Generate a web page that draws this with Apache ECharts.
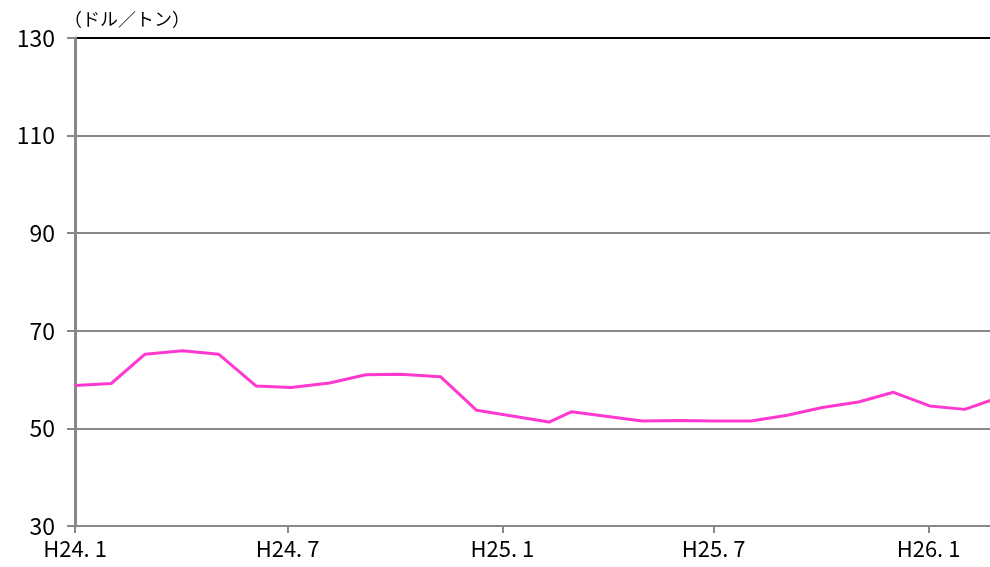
<!DOCTYPE html>
<html>
<head>
<meta charset="utf-8">
<script src="https://cdn.jsdelivr.net/npm/echarts@6/dist/echarts.min.js"></script>
<style>
html,body{margin:0;padding:0;background:#fff;}
#chart{width:990px;height:567px;}
</style>
</head>
<body>
<div id="chart"></div>
<script>
// Data
var dates = ['2012-01-01','2012-02-01','2012-03-01','2012-04-02','2012-05-03','2012-06-04','2012-07-04','2012-08-06','2012-09-06','2012-10-06','2012-11-09','2012-12-10','2013-02-10','2013-03-01','2013-05-01','2013-06-01','2013-07-01','2013-08-02','2013-09-02','2013-10-02','2013-11-02','2013-12-02','2014-01-02','2014-02-01','2014-03-01'];
var prices = [58.8,59.2,65.2,65.9,65.2,58.7,58.4,59.3,61.0,61.1,60.6,53.7,51.3,53.4,51.5,51.6,51.5,51.5,52.7,54.3,55.4,57.4,54.6,53.9,56.2];
var tickDates = ['2012-01-01','2012-07-01','2013-01-01','2013-07-01','2014-01-01'];
var tickLabels = ['H24. 1','H24. 7','H25. 1','H25. 7','H26. 1'];
var yTicks = [30,50,70,90,110,130];
var unitLabel = '（ドル／トン）';
var axisStart = '2012-01-01';
var axisEnd = '2014-02-22';

function ts(s){ var p = s.split('-'); return Date.UTC(+p[0], +p[1]-1, +p[2]); }
var tickTs = tickDates.map(ts);
var seriesData = dates.map(function(d,i){ return [ts(d), prices[i]]; });

var FONT = '"Noto Sans CJK JP", "Noto Sans", sans-serif';
var chart = echarts.init(document.getElementById('chart'), null, {renderer:'canvas'});
chart.setOption({
  animation: false,
  backgroundColor: '#ffffff',
  title: {
    text: unitLabel,
    left: 59, top: 5,
    textStyle: {fontFamily: FONT, fontSize: 18, fontWeight: 'normal', color: '#000'}
  },
  grid: {left: 75, right: 0, top: 38, bottom: 41, containLabel: false},
  xAxis: {
    type: 'value',
    min: ts(axisStart),
    max: ts(axisEnd) + 16 * 3600000,
    axisLine: {show: true, onZero: false, lineStyle: {color: '#888888', width: 2}},
    axisTick: {show: true, length: 7, customValues: tickTs, lineStyle: {color: '#888888', width: 2}},
    axisLabel: {
      show: true,
      customValues: tickTs,
      margin: 12,
      fontFamily: FONT, fontSize: 22, color: '#000',
      formatter: function(v){
        var i = tickTs.indexOf(v);
        return i >= 0 ? tickLabels[i] : '';
      }
    },
    splitLine: {show: false}
  },
  yAxis: {
    type: 'value',
    min: yTicks[0],
    max: yTicks[yTicks.length-1],
    interval: 20,
    axisLine: {show: true, lineStyle: {color: '#888888', width: 3}},
    axisTick: {show: true, length: 8, lineStyle: {color: '#888888', width: 2}},
    axisLabel: {margin: 20, fontFamily: FONT, fontSize: 23, color: '#000'},
    splitLine: {show: true, lineStyle: {color: ['#888888','#888888','#888888','#888888','#888888','#000000'], width: 2}}
  },
  series: [{
    type: 'line',
    data: seriesData,
    symbol: 'none',
    clip: true,
    lineStyle: {color: '#ff38d0', width: 3}
  }]
});
</script>
</body>
</html>
